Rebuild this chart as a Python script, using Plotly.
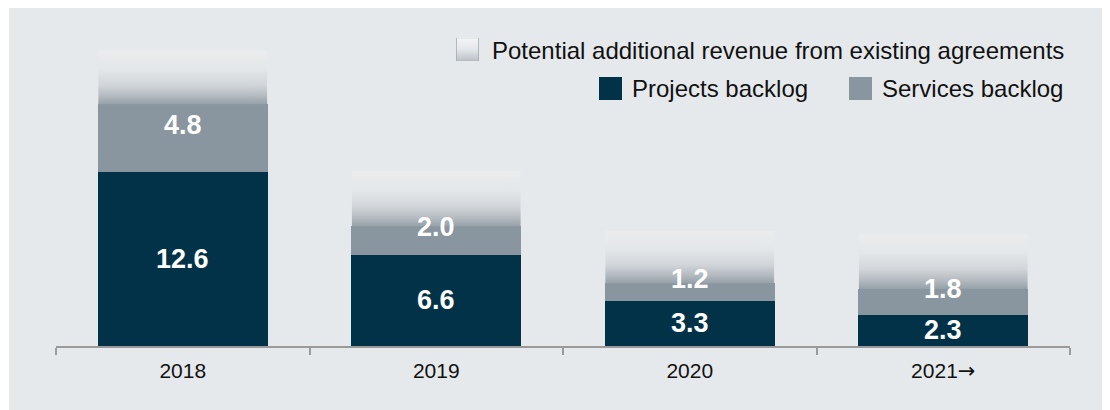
import base64
import plotly.graph_objects as go

years = ["2018", "2019", "2020", "2021\u2192"]
projects = [12.6, 6.6, 3.3, 2.3]
services = [4.8, 2.0, 1.2, 1.8]
potential = [3.9, 4.0, 3.8, 4.0]

NAVY = "#023247"
GREY = "#8a969f"
BG = "#e6e9ec"
FONT = "Liberation Sans, Arial, sans-serif"
BAR_W = 0.667

# the page puts the figure 8px in from the top-left corner
OFF = 8
W, H = 1110 - OFF, 410 - OFF
L, R, T, B = 48, 40, 2, 64
PW, PH = W - L - R, H - T - B


def px(x):
    # window pixel -> paper x
    return (x - OFF - L) / PW


def py(y):
    # window pixel -> paper y
    return (H - B - (y - OFF)) / PH


def gradient_uri(stops, border=None):
    st = "".join(f"<stop offset='{o}' stop-color='{c}'/>" for o, c in stops)
    stroke = f" stroke='{border}' stroke-width='1.5'" if border else ""
    svg = (
        "<svg xmlns='http://www.w3.org/2000/svg' width='20' height='100' "
        "viewBox='0 0 20 100' preserveAspectRatio='none'>"
        f"<defs><linearGradient id='g' x1='0' y1='0' x2='0' y2='1'>{st}</linearGradient></defs>"
        f"<rect x='0' y='0' width='20' height='100' fill='url(#g)'{stroke}/></svg>"
    )
    return "data:image/svg+xml;base64," + base64.b64encode(svg.encode()).decode()


bar_grad = gradient_uri([(0, "#eaecee"), (0.35, "#e4e7e9"), (0.65, "#d1d5d9"),
                         (0.85, "#b2b9bf"), (1, "#95a0a8")])
icon_grad = gradient_uri([(0, "#f4f5f6"), (0.5, "#e4e7ea"), (1, "#b9c0c6")], border="#a7afb5")

# tick text: draw the arrow with DejaVu, which has a fuller glyph
tick_text = [y.replace("\u2192", "<span style='font-family:DejaVu Sans'>\u2192</span>")
             for y in years]

fig = go.Figure()
fig.add_bar(x=years, y=projects, name="Projects backlog", width=BAR_W,
            marker=dict(color=NAVY, line=dict(color=NAVY, width=1)))
fig.add_bar(x=years, y=services, name="Services backlog", width=BAR_W,
            marker=dict(color=GREY, line=dict(color=GREY, width=1)))
fig.add_bar(x=years, y=potential, name="Potential additional revenue from existing agreements",
            width=BAR_W, marker=dict(color="rgba(0,0,0,0)", line_width=0))

label_font = dict(family=FONT, size=27, color="white", weight="bold")
images = []
# numeric category index keeps "2018"-like strings from being read as numbers
for i, (p, s, q) in enumerate(zip(projects, services, potential)):
    images.append(dict(source=bar_grad, xref="x", yref="y", x=i, y=p + s + q,
                       sizex=BAR_W, sizey=q, xanchor="center", yanchor="top",
                       sizing="stretch", layer="above"))
    fig.add_annotation(xref="x", yref="y", x=i, y=p / 2, text=f"{p:.1f}",
                       showarrow=False, font=label_font)
    fig.add_annotation(xref="x", yref="y", x=i, y=p + s / 2, yshift=13, text=f"{s:.1f}",
                       showarrow=False, font=label_font)

# legend drawn by hand so the swatches can be large
images.append(dict(source=icon_grad, xref="paper", yref="paper", x=px(456), y=py(38),
                   sizex=23 / PW, sizey=23 / PH, xanchor="left", yanchor="top",
                   sizing="stretch", layer="above"))
legend_items = [
    ("Potential additional revenue from existing agreements", None, 490, 50),
    ("Projects backlog", NAVY, 630, 88.5),
    ("Services backlog", GREY, 880, 88.5),
]
for label, color, tx, ty in legend_items:
    if color:
        fig.add_shape(type="rect", xref="paper", yref="paper",
                      x0=px(tx - 31), x1=px(tx - 8), y0=py(ty + 11.5), y1=py(ty - 11.5),
                      fillcolor=color, line_width=0)
    fig.add_annotation(xref="paper", yref="paper", x=px(tx), y=py(ty), text=label,
                       xanchor="left", yanchor="middle", showarrow=False,
                       font=dict(family=FONT, size=24, color="#111111"))

# grey panel (leaves a thin white edge at the left)
fig.add_shape(type="rect", xref="paper", yref="paper", layer="below",
              x0=px(9), x1=px(1120), y0=py(420), y1=py(0), fillcolor=BG, line_width=0)

fig.update_layout(
    width=W, height=H,
    margin=dict(l=L, r=R, t=T, b=B),
    barmode="stack",
    showlegend=False,
    paper_bgcolor="white",
    plot_bgcolor="rgba(0,0,0,0)",
    images=images,
    hovermode=False,
    font=dict(family=FONT),
)
fig.update_xaxes(
    type="category", range=[-0.5, 3.5], showline=True, linecolor="#9a9a9a", linewidth=2,
    tickmode="array", tickvals=years, ticktext=tick_text,
    ticks="outside", tickson="boundaries", ticklen=7, tickwidth=2, tickcolor="#9a9a9a",
    ticklabelstandoff=5,
    tickfont=dict(family=FONT, size=21, color="#111111"), showgrid=False,
)
fig.update_yaxes(visible=False, range=[0, 24.2], showgrid=False, zeroline=False)

fig.write_html("out.html")
